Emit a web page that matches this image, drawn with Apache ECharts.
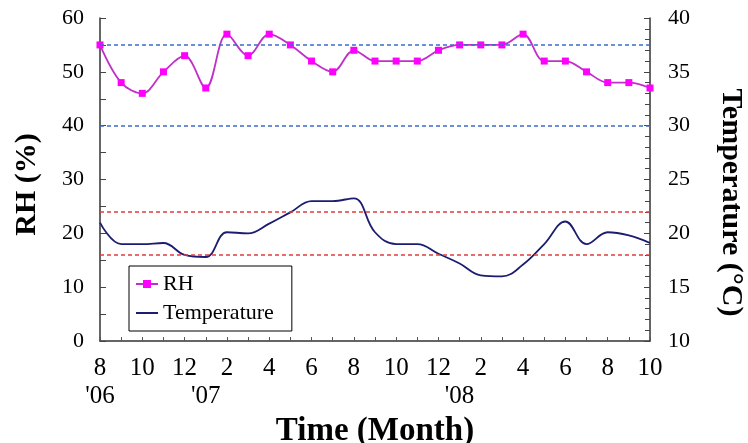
<!DOCTYPE html>
<html>
<head>
<meta charset="utf-8">
<script src="https://cdn.jsdelivr.net/npm/echarts@6/dist/echarts.min.js"></script>
<style>
  html, body { margin: 0; padding: 0; background: #fff; }
  #chart { width: 748px; height: 443px; }
</style>
</head>
<body>
<div id="chart"></div>
<script>
// Months from Aug 2006 to Oct 2008
const months = ['8','9','10','11','12','1','2','3','4','5','6','7','8','9','10','11','12','1','2','3','4','5','6','7','8','9','10'];
// Year tags shown under the month labels (by month index)
const yearTags = { 0: "'06", 5: "'07", 17: "'08" };

// Relative humidity (%), monthly
const rh = [55, 48, 46, 50, 53, 47, 57, 53, 57, 55, 52, 50, 54, 52, 52, 52, 54, 55, 55, 55, 57, 52, 52, 50, 48, 48, 47];
// Temperature (°C), monthly
const temperature = [21.0, 19.0, 19.0, 19.1, 18.0, 17.8, 20.1, 20.0, 20.9, 21.95, 23.0, 23.0, 23.25, 20.1, 19.0, 19.0, 18.1, 17.2, 16.1, 16.0, 17.1, 19.0, 21.1, 19.0, 20.1, 19.8, 19.1];

// Comfort band limits
const rhLimits = [55, 40];
const tempLimits = [22, 18];

const serif = '"Liberation Serif", "Times New Roman", serif';

const chart = echarts.init(document.getElementById('chart'));

chart.setOption({
  animation: false,
  backgroundColor: '#fff',
  grid: { left: 100, right: 98, top: 18, bottom: 102, containLabel: false, outerBoundsMode: 'none' },
  legend: {
    orient: 'vertical',
    left: 129,
    top: 266,
    padding: [7, 18, 7, 6],
    itemGap: 7,
    itemWidth: 22,
    itemHeight: 10,
    borderColor: '#000',
    borderWidth: 1,
    backgroundColor: '#fff',
    textStyle: { fontFamily: serif, fontSize: 22, color: '#000' },
    data: [
      { name: 'RH' },
      { name: 'Temperature', icon: 'path://M0,0 H22 V2 H0 Z' }
    ]
  },
  xAxis: {
    type: 'category',
    data: months,
    boundaryGap: false,
    name: 'Time (Month)',
    nameLocation: 'middle',
    nameGap: 57,
    nameTextStyle: { fontFamily: serif, fontSize: 33, fontWeight: 'bold', color: '#000' },
    axisLine: { lineStyle: { color: '#333', width: 1.5 } },
    axisTick: { show: true, inside: true, length: 4, interval: 0, lineStyle: { color: '#555' } },
    axisLabel: {
      interval: 0,
      margin: 13,
      fontFamily: serif,
      fontSize: 25,
      lineHeight: 28,
      color: '#000',
      formatter: function (value, index) {
        const m = parseInt(value, 10);
        const top = (m % 2 === 0) ? value : ' ';
        return yearTags[index] ? top + '\n' + yearTags[index] : (m % 2 === 0 ? value : '');
      }
    },
    splitLine: { show: false }
  },
  yAxis: [
    {
      type: 'value',
      min: 0, max: 60, interval: 10,
      name: 'RH (%)',
      nameLocation: 'middle',
      nameGap: 58,
      nameRotate: 90,
      nameTextStyle: { fontFamily: serif, fontSize: 30, fontWeight: 'bold', color: '#000', padding: [0, 10, 0, 0] },
      axisLine: { show: true, lineStyle: { color: '#333', width: 1.5 } },
      axisTick: { show: true, inside: true, length: 6, lineStyle: { color: '#444' } },
      minorTick: { show: true, splitNumber: 2, length: 6, lineStyle: { color: '#444' } },
      axisLabel: { fontFamily: serif, fontSize: 22, color: '#000', margin: 16 },
      splitLine: { show: false }
    },
    {
      type: 'value',
      min: 10, max: 40, interval: 5,
      position: 'right',
      name: 'Temperature (°C)',
      nameLocation: 'middle',
      nameGap: 66,
      nameRotate: -90,
      nameTextStyle: { fontFamily: serif, fontSize: 30, fontWeight: 'bold', color: '#000', padding: [0, 0, 0, 46] },
      axisLine: { show: true, lineStyle: { color: '#333', width: 1.5 } },
      axisTick: { show: true, inside: true, length: 6, lineStyle: { color: '#444' } },
      minorTick: { show: true, splitNumber: 5, length: 5, lineStyle: { color: '#444' } },
      axisLabel: { fontFamily: serif, fontSize: 22, color: '#000', margin: 18 },
      splitLine: { show: false }
    }
  ],
  series: [
    {
      name: 'RH',
      type: 'line',
      yAxisIndex: 0,
      data: rh,
      smooth: 0.35,
      symbol: 'rect',
      symbolSize: 7,
      itemStyle: { color: '#ff00ff' },
      lineStyle: { color: '#c030c8', width: 1.8 },
      z: 3,
      markLine: {
        silent: true,
        symbol: 'none',
        label: { show: false },
        lineStyle: { color: '#3a6cc8', type: [4, 3], width: 1.5 },
        data: rhLimits.map(v => ({ yAxis: v }))
      }
    },
    {
      name: 'Temperature',
      type: 'line',
      yAxisIndex: 1,
      data: temperature,
      smooth: 0.4,
      showSymbol: false,
      symbol: 'none',
      itemStyle: { color: '#1c1c70' },
      lineStyle: { color: '#1c1c70', width: 1.8 },
      z: 3,
      markLine: {
        silent: true,
        symbol: 'none',
        label: { show: false },
        lineStyle: { color: '#e03c3c', type: [4, 3], width: 1.5 },
        data: tempLimits.map(v => ({ yAxis: v }))
      }
    }
  ]
});
</script>
</body>
</html>
